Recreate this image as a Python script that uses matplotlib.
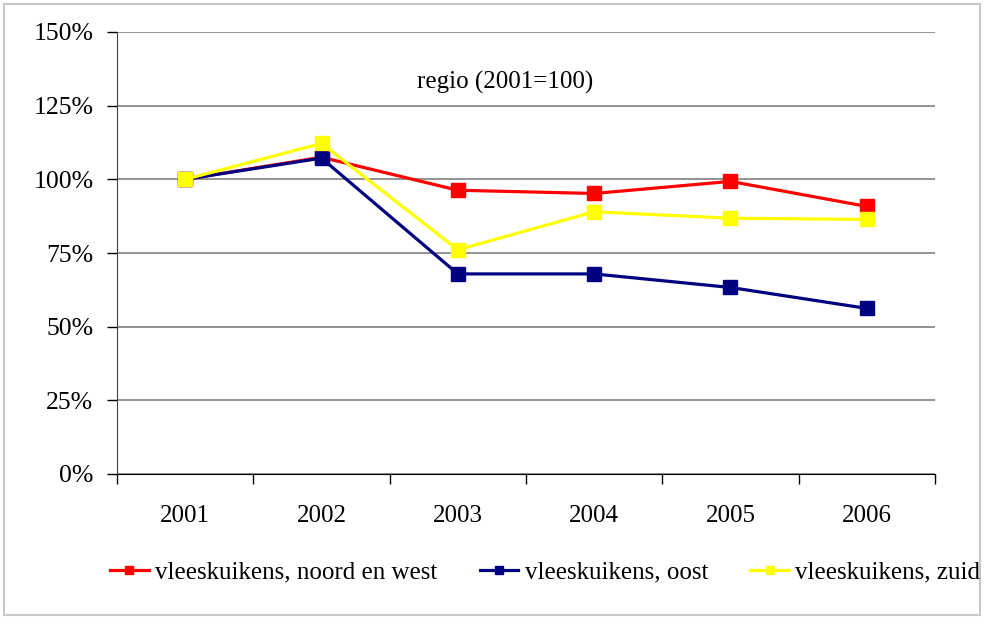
import matplotlib
matplotlib.use("Agg")
import matplotlib.pyplot as plt
from matplotlib.patches import Rectangle
from matplotlib.ticker import FuncFormatter, FixedLocator

years = ["2001", "2002", "2003", "2004", "2005", "2006"]
noord_west = [100, 107.5, 96.3, 95.2, 99.3, 90.8]
oost = [100, 107.2, 67.9, 67.9, 63.3, 56.2]
zuid = [100, 112.2, 76.1, 89.0, 86.8, 86.4]
series_labels = ["vleeskuikens, noord en west", "vleeskuikens, oost", "vleeskuikens, zuid"]
series_colors = ["#ff0000", "#000080", "#ffff00"]
y_ticks = [0, 25, 50, 75, 100, 125, 150]

plt.rcParams["font.family"] = ["Liberation Serif", "DejaVu Serif"]

fig = plt.figure(figsize=(9.84, 6.19), dpi=100)
ax = fig.add_axes([117 / 984, 1 - 474 / 619, (935 - 117) / 984, (474 - 32) / 619])

x = list(range(len(years)))
for vals, lab, col in zip([noord_west, oost, zuid], series_labels, series_colors):
    ax.plot(x, vals, color=col, lw=2.3, marker="s", ms=10.5, mec=col, label=lab, zorder=3)

ax.set_xlim(-0.5, len(years) - 0.5)
ax.set_ylim(0, 150)
ax.set_yticks(y_ticks)
ax.yaxis.set_major_formatter(FuncFormatter(lambda v, p: f"{int(v)}%"))
ax.grid(axis="y", color="#808080", lw=1.2)
ax.set_axisbelow(True)

ax.set_xticks(x)
ax.set_xticklabels(years)
ax.xaxis.set_minor_locator(FixedLocator([i - 0.5 for i in range(len(years) + 1)]))
ax.tick_params(axis="x", which="major", length=0, pad=22, labelsize=18)
ax.tick_params(axis="x", which="minor", length=7, direction="out", width=1)
ax.tick_params(axis="y", length=7, direction="out", width=1, pad=10, labelsize=18.5)

for s in ["top", "right"]:
    ax.spines[s].set_visible(False)
ax.spines["left"].set_color("#404040")
ax.spines["bottom"].set_color("black")

ax.text(0.475, 0.885, "regio (2001=100)", transform=ax.transAxes, ha="center",
        va="center", fontsize=18)

fig.legend(loc="center", bbox_to_anchor=(0.554, 1 - 572 / 619), ncol=3, frameon=False,
           fontsize=18, handlelength=1.55, handletextpad=0.25, columnspacing=1.7,
           markerscale=0.6)

fig.patches.append(Rectangle((4 / 984, 4 / 619), 976 / 984, 611 / 619, transform=fig.transFigure,
                             fill=False, edgecolor="#c8c8c8", lw=1.5))

fig.savefig("out.png", dpi=100)
